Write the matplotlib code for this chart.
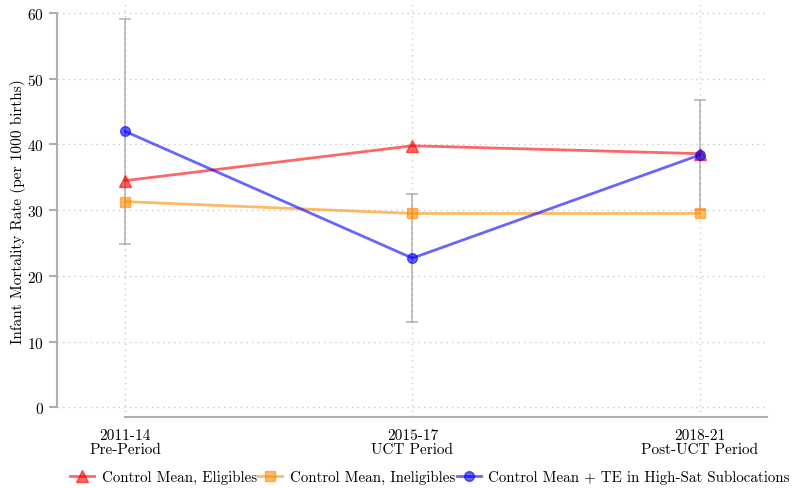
import matplotlib
matplotlib.use("Agg")
import matplotlib.pyplot as plt
import numpy as np

periods = ["2011-14\nPre-Period", "2015-17\nUCT Period", "2018-21\nPost-UCT Period"]
eligibles = [34.5, 39.8, 38.6]
ineligibles = [31.3, 29.5, 29.5]
high_sat = [42.0, 22.7, 38.4]
high_sat_err = [17.1, 9.8, 8.3]
yticks = [0, 10, 20, 30, 40, 50, 60]

plt.rcParams['font.family'] = ['cmr10', 'DejaVu Serif']
plt.rcParams['mathtext.fontset'] = 'cm'
plt.rcParams['axes.unicode_minus'] = False
plt.rcParams['axes.formatter.use_mathtext'] = True

fig = plt.figure(figsize=(7.92, 4.89), dpi=100)
ax = fig.add_axes([0.072, 0.145, 0.896, 0.845])
x = np.arange(len(periods))

ax.errorbar(x, high_sat, yerr=high_sat_err, fmt='none', ecolor='#999999', alpha=0.7,
            elinewidth=1.2, capsize=4, capthick=1.2, zorder=2)
ax.plot(x, eligibles, color='red', marker='^', markersize=8, lw=2, alpha=0.6,
        label='Control Mean, Eligibles', zorder=3)
ax.plot(x, ineligibles, color='#ff8c00', marker='s', markersize=7, lw=2, alpha=0.6,
        label='Control Mean, Ineligibles', zorder=3)
ax.plot(x, high_sat, color='blue', marker='o', markersize=7, lw=2, alpha=0.6,
        label='Control Mean + TE in High-Sat Sublocations', zorder=3)

ax.set_xlim(-0.237, 2.233)
ax.set_ylim(-1.5, 61.4)
ax.set_yticks(yticks)
ax.set_xticks(x)
ax.set_xticklabels(periods, fontsize=11, linespacing=1.0)
ax.tick_params(axis='y', labelsize=11, length=6, color='#b0b0b0', width=1.5)
ax.tick_params(axis='x', length=0, pad=8)
ax.set_ylabel('Infant Mortality Rate (per 1000 births)', fontsize=11, labelpad=1)

ax.grid(True, linestyle=(0, (1, 3)), color='#c8c8c8', lw=1)
ax.set_axisbelow(True)
for s in ['top', 'right']:
    ax.spines[s].set_visible(False)
for s in ['left', 'bottom']:
    ax.spines[s].set_color('#b0b0b0')
    ax.spines[s].set_linewidth(1.5)
ax.spines['left'].set_bounds(0, 60)
ax.spines['bottom'].set_bounds(0, 2.233)

handles, labels = ax.get_legend_handles_labels()
leg = fig.legend(handles, labels, loc='center', bbox_to_anchor=(0.543, 0.022), ncol=3,
                 frameon=False, fontsize=10.8, handlelength=1.6, handletextpad=0.5,
                 columnspacing=0.1, borderaxespad=0, borderpad=0)

fig.savefig('out.png', dpi=100)
